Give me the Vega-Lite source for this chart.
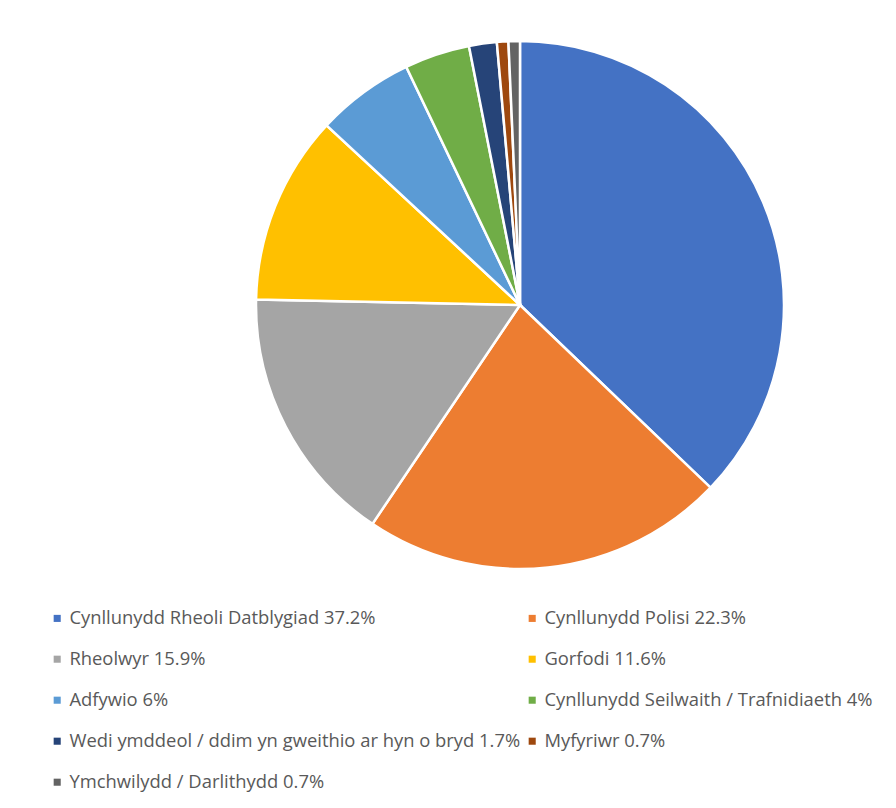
{
  "$schema": "https://vega.github.io/schema/vega-lite/v6.json",
  "autosize": "none",
  "width": 528,
  "height": 528,
  "padding": {"left": 256, "top": 41, "right": 112, "bottom": 239},
  "background": "white",
  "data": {"values": [
    {"label": "Cynllunydd Rheoli Datblygiad 37.2%", "value": 37.2, "order": 1},
    {"label": "Cynllunydd Polisi 22.3%", "value": 22.3, "order": 2},
    {"label": "Rheolwyr 15.9%", "value": 15.9, "order": 3},
    {"label": "Gorfodi 11.6%", "value": 11.6, "order": 4},
    {"label": "Adfywio 6%", "value": 6, "order": 5},
    {"label": "Cynllunydd Seilwaith / Trafnidiaeth 4%", "value": 4, "order": 6},
    {"label": "Wedi ymddeol / ddim yn gweithio ar hyn o bryd 1.7%", "value": 1.7, "order": 7},
    {"label": "Myfyriwr 0.7%", "value": 0.7, "order": 8},
    {"label": "Ymchwilydd / Darlithydd 0.7%", "value": 0.7, "order": 9}
  ]},
  "mark": {"type": "arc", "stroke": "white", "strokeWidth": 2.5},
  "encoding": {
    "theta": {"field": "value", "type": "quantitative", "stack": true},
    "order": {"field": "order", "type": "quantitative"},
    "color": {
      "field": "label",
      "type": "nominal",
      "sort": {"field": "order"},
      "scale": {
        "domain": [
          "Cynllunydd Rheoli Datblygiad 37.2%",
          "Cynllunydd Polisi 22.3%",
          "Rheolwyr 15.9%",
          "Gorfodi 11.6%",
          "Adfywio 6%",
          "Cynllunydd Seilwaith / Trafnidiaeth 4%",
          "Wedi ymddeol / ddim yn gweithio ar hyn o bryd 1.7%",
          "Myfyriwr 0.7%",
          "Ymchwilydd / Darlithydd 0.7%"
        ],
        "range": ["#4472C4", "#ED7D31", "#A5A5A5", "#FFC000", "#5B9BD5", "#70AD47", "#264478", "#9E480E", "#636363"]
      },
      "legend": {
        "title": null,
        "orient": "none",
        "legendX": -208,
        "legendY": 568,
        "direction": "horizontal",
        "columns": 2,
        "symbolType": "square",
        "symbolSize": 50,
        "symbolStrokeWidth": 0,
        "labelFont": "Open Sans",
        "labelFontSize": 18.4,
        "labelColor": "#595959",
        "labelOffset": 3,
        "labelLimit": 600,
        "columnPadding": 2,
        "rowPadding": 22
      }
    }
  },
  "config": {"view": {"stroke": null}}
}
